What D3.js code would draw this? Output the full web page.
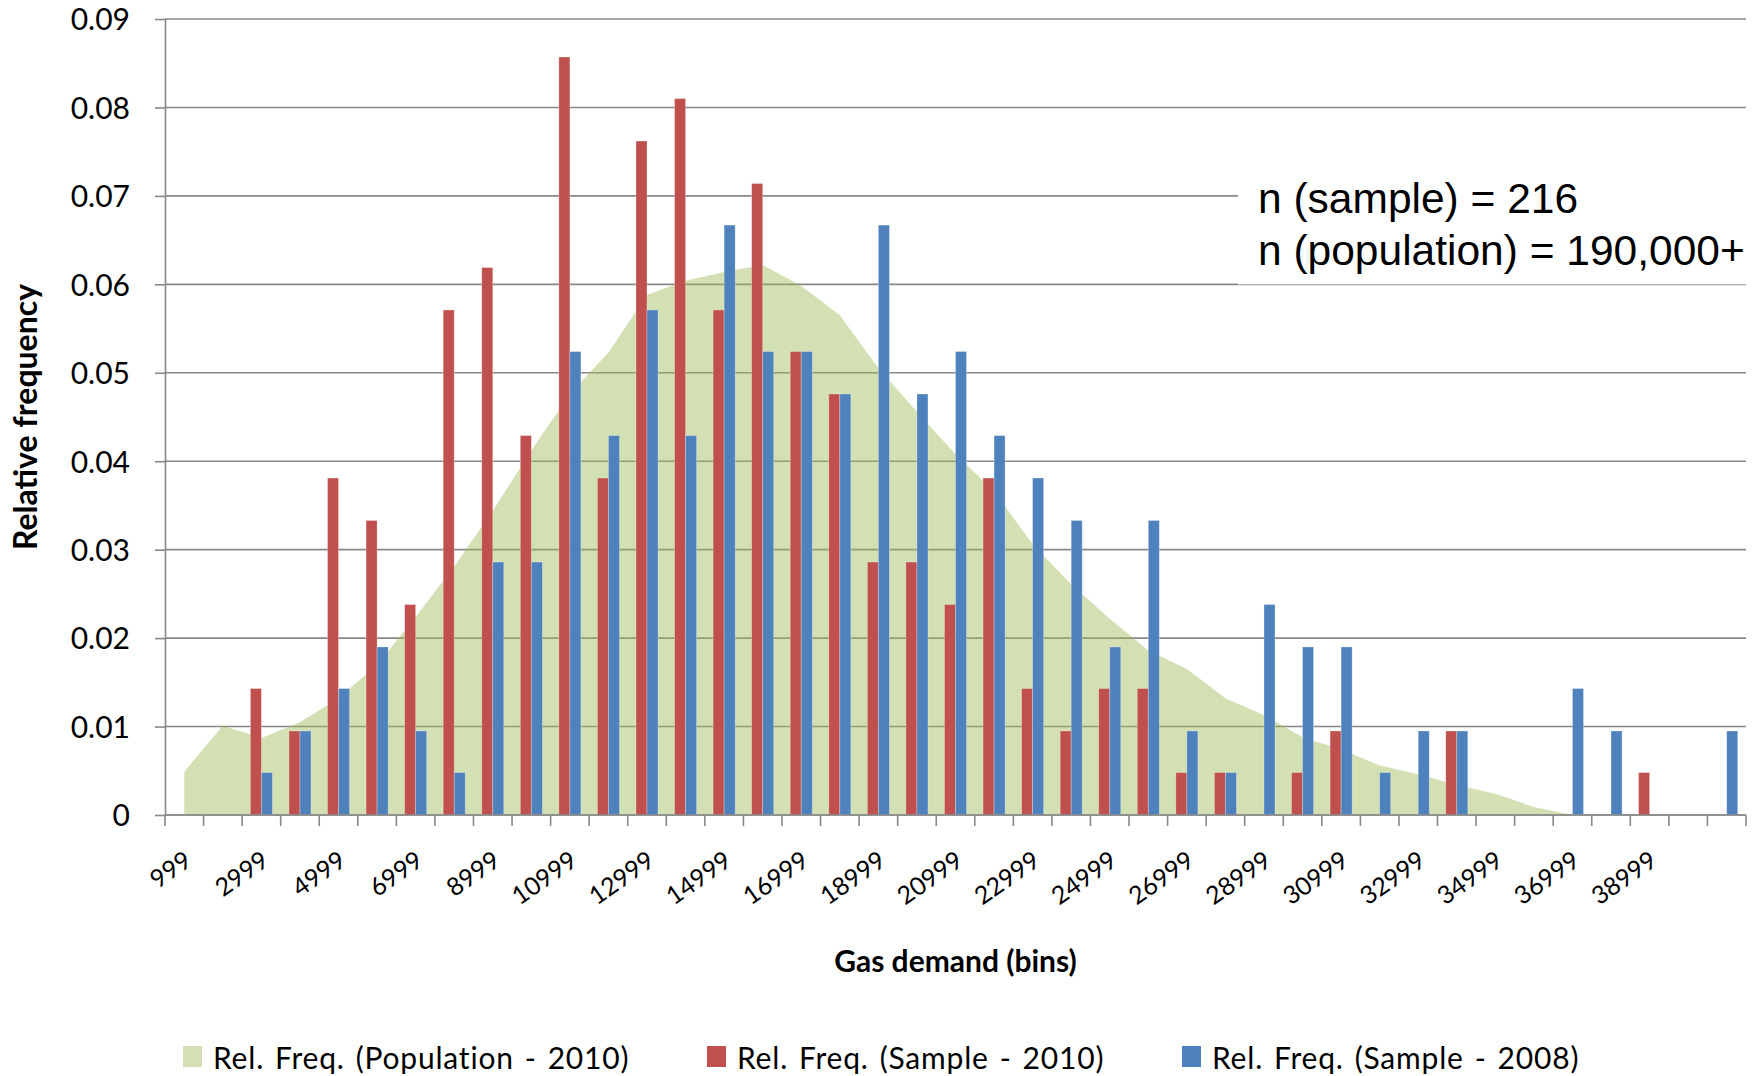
<!DOCTYPE html>
<html>
<head>
<meta charset="utf-8">
<script src="https://cdn.jsdelivr.net/npm/d3@7"></script>
<style>
  body { margin: 0; background: #fff; }
  svg { display: block; }
</style>
</head>
<body>
<div id="chart"></div>
<script>
// Bins on the category axis (Excel histogram bins, last one is "More").
const categories = ["999", "1999", "2999", "3999", "4999", "5999", "6999", "7999", "8999", "9999",
    "10999", "11999", "12999", "13999", "14999", "15999", "16999", "17999", "18999", "19999",
    "20999", "21999", "22999", "23999", "24999", "25999", "26999", "27999", "28999", "29999",
    "30999", "31999", "32999", "33999", "34999", "35999", "36999", "37999", "38999", "39999", "More"];

// Only every second bin gets a label.
const tickLabels = ["999", "2999", "4999", "6999", "8999", "10999", "12999", "14999", "16999", "18999",
    "20999", "22999", "24999", "26999", "28999", "30999", "32999", "34999", "36999", "38999"];

// Rel. Freq. (Population - 2010), drawn as area.
const population2010 = [0.0049, 0.0101, 0.0087, 0.0105, 0.0132, 0.0170, 0.0224, 0.0281, 0.0344, 0.0412,
    0.0476, 0.0523, 0.0588, 0.0604, 0.0614, 0.0622, 0.0598, 0.0565, 0.0505, 0.0456,
    0.0408, 0.0366, 0.0306, 0.0261, 0.0222, 0.0186, 0.0165, 0.0132, 0.0113, 0.0088,
    0.0074, 0.0056, 0.0046, 0.0034, 0.0024, 0.0009, 0, 0, 0, 0, 0];

// Rel. Freq. (Sample - 2010).
const sample2010 = [0, 0, 0.0143, 0.0095, 0.0381, 0.0333, 0.0238, 0.0571, 0.0619, 0.0429,
    0.0857, 0.0381, 0.0762, 0.0810, 0.0571, 0.0714, 0.0524, 0.0476, 0.0286, 0.0286,
    0.0238, 0.0381, 0.0143, 0.0095, 0.0143, 0.0143, 0.0048, 0.0048, 0, 0.0048,
    0.0095, 0, 0, 0.0095, 0, 0, 0, 0, 0.0048, 0, 0];

// Rel. Freq. (Sample - 2008).
const sample2008 = [0, 0, 0.0048, 0.0095, 0.0143, 0.0190, 0.0095, 0.0048, 0.0286, 0.0286,
    0.0524, 0.0429, 0.0571, 0.0429, 0.0667, 0.0524, 0.0524, 0.0476, 0.0667, 0.0476,
    0.0524, 0.0429, 0.0381, 0.0333, 0.0190, 0.0333, 0.0095, 0.0048, 0.0238, 0.0190,
    0.0190, 0.0048, 0.0095, 0.0095, 0, 0, 0.0143, 0.0095, 0, 0, 0.0095];

const yTicks = [0, 0.01, 0.02, 0.03, 0.04, 0.05, 0.06, 0.07, 0.08, 0.09];

const seriesNames = ["Rel. Freq. (Population - 2010)", "Rel. Freq. (Sample - 2010)", "Rel. Freq. (Sample - 2008)"];
const noteLines = ["n (sample) = 216", "n (population) = 190,000+"];

// Size of the page and the plot area.
const width = 1758, height = 1076;
const margin = { top: 19, right: 12, bottom: 261, left: 165 };
const innerW = width - margin.left - margin.right;
const innerH = height - margin.top - margin.bottom;

const gridColor = "#888888";
const green = "#9bbb59", red = "#c0504d", blue = "#4f81bd";
const font = "Lato, 'Open Sans', sans-serif";

let svg = d3.select("#chart")
    .append("svg")
    .attr("width", width)
    .attr("height", height);

svg.append("rect").attr("width", width).attr("height", height).attr("fill", "#fff");

let g = svg.append("g")
    .attr("transform", `translate(${margin.left},${margin.top})`);

// Scales.
let x = d3.scaleBand()
    .domain(categories)
    .range([0, innerW])
    .padding(0);

// Two columns per bin, gap width 150%.
let xSub = d3.scaleBand()
    .domain(["s2010", "s2008"])
    .range([0, x.bandwidth()])
    .paddingInner(0)
    .paddingOuter(0.75);

let y = d3.scaleLinear()
    .domain([0, 0.09])
    .range([innerH, 0]);

// Horizontal gridlines.
g.append("g")
    .selectAll("line")
    .data(yTicks)
    .enter().append("line")
    .attr("x1", 0)
    .attr("x2", innerW)
    .attr("y1", d => y(d))
    .attr("y2", d => y(d))
    .attr("stroke", gridColor)
    .attr("stroke-width", 1.6);

// Population area, from centre of first bin to centre of last.
let area = d3.area()
    .x((d, i) => x(categories[i]) + x.bandwidth() / 2)
    .y0(y(0))
    .y1(d => y(d));

g.append("path")
    .datum(population2010)
    .attr("d", area)
    .attr("fill", green)
    .attr("fill-opacity", 0.45);

// Columns.
let bars = [
    { key: "s2010", values: sample2010, color: red },
    { key: "s2008", values: sample2008, color: blue }
];

bars.forEach(s => {
    g.append("g")
        .selectAll("rect")
        .data(s.values.map((v, i) => ({ cat: categories[i], v: v })).filter(d => d.v > 0))
        .enter().append("rect")
        .attr("x", d => x(d.cat) + xSub(s.key))
        .attr("y", d => y(d.v))
        .attr("width", xSub.bandwidth())
        .attr("height", d => y(0) - y(d.v))
        .attr("fill", s.color)
        .attr("stroke", "rgba(255,255,255,0.35)")
        .attr("stroke-width", 0.8);
});

// Y axis.
let yAxis = g.append("g")
    .call(d3.axisLeft(y)
        .tickValues(yTicks)
        .tickSize(10)
        .tickPadding(25)
        .tickFormat(d => d === 0 ? "0" : d3.format(".2f")(d)));

yAxis.selectAll("line").attr("stroke", gridColor).attr("stroke-width", 1.6);
yAxis.select(".domain").attr("stroke", gridColor).attr("stroke-width", 1.6).attr("d", `M0.5,${innerH}V0`);
yAxis.selectAll("text")
    .style("font-family", font)
    .style("font-size", "30px")
    .attr("fill", "#000")
    .attr("dy", "0.36em");

// X axis: ticks sit on bin boundaries.
let xAxis = g.append("g")
    .attr("transform", `translate(0,${innerH})`);

xAxis.append("line")
    .attr("x1", 0)
    .attr("x2", innerW)
    .attr("stroke", gridColor)
    .attr("stroke-width", 1.6);

xAxis.selectAll(".tick-mark")
    .data(categories.concat(["end"]))
    .enter().append("line")
    .attr("class", "tick-mark")
    .attr("x1", d => d === "end" ? innerW : x(d))
    .attr("x2", d => d === "end" ? innerW : x(d))
    .attr("y1", 0)
    .attr("y2", 11)
    .attr("stroke", gridColor)
    .attr("stroke-width", 1.6);

xAxis.selectAll(".tick-label")
    .data(tickLabels)
    .enter().append("text")
    .attr("class", "tick-label")
    .attr("transform", d => `translate(${x(d) + x.bandwidth() / 2 + 4},42) rotate(-35)`)
    .attr("text-anchor", "end")
    .attr("dy", "0.35em")
    .style("font-family", font)
    .style("font-size", "25px")
    .text(d => d);

// Axis titles.
svg.append("text")
    .attr("transform", `translate(26,${margin.top + innerH / 2}) rotate(-90)`)
    .attr("text-anchor", "middle")
    .attr("dy", "0.35em")
    .style("font-family", font)
    .style("font-weight", "bold")
    .style("font-size", "32px")
    .text("Relative frequency");

svg.append("text")
    .attr("x", margin.left + innerW / 2)
    .attr("y", 972)
    .attr("text-anchor", "middle")
    .style("font-family", font)
    .style("font-weight", "bold")
    .style("font-size", "30px")
    .text("Gas demand (bins)");

// Text box with the sample sizes.
svg.append("rect")
    .attr("x", 1238)
    .attr("y", 150)
    .attr("width", width - 1238)
    .attr("height", margin.top + y(0.06) - 150)
    .attr("fill", "#fff");

svg.append("g")
    .selectAll("text")
    .data(noteLines)
    .enter().append("text")
    .attr("x", 1258)
    .attr("y", (d, i) => 213 + i * 52)
    .style("font-family", "'Liberation Sans', Arial, sans-serif")
    .style("font-size", "42.5px")
    .text(d => d);

// Legend.
let legendX = [183, 707, 1182];
let legendColors = [d3.color(green).copy({ opacity: 0.45 }), red, blue];

let legend = svg.append("g")
    .selectAll("g")
    .data(seriesNames)
    .enter().append("g")
    .attr("transform", (d, i) => `translate(${legendX[i]},1046)`);

legend.append("rect")
    .attr("width", 19)
    .attr("height", 21)
    .attr("fill", (d, i) => legendColors[i]);

legend.append("text")
    .attr("x", 30)
    .attr("y", 23)
    .style("font-family", font)
    .style("font-size", "30px")
    .style("letter-spacing", "0.8px")
    .style("word-spacing", "2.5px")
    .text(d => d);
</script>
</body>
</html>
